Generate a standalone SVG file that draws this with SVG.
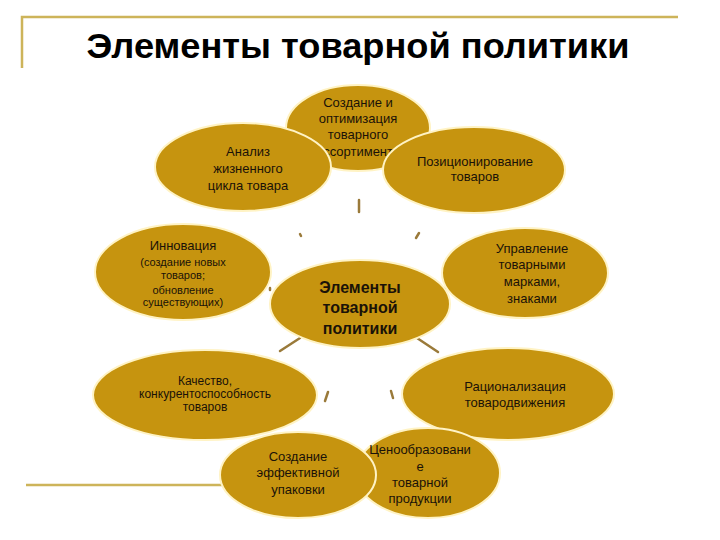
<svg xmlns="http://www.w3.org/2000/svg" width="720" height="540" viewBox="0 0 720 540">
<style>
.frame{stroke:#CDB45A;stroke-width:2.5;fill:none}
.el{fill:#C6940F;stroke:#FFF3C4;stroke-width:2}
.t{font-family:"Liberation Sans",Arial,sans-serif;font-size:13px;fill:#1a1208;text-anchor:middle}
.s{font-size:11px}
.q{font-size:12px}
.b{font-weight:bold;font-size:16px}
.title{font-family:"Liberation Sans",Arial,sans-serif;font-weight:bold;font-size:35px;fill:#000;text-anchor:middle}
.c{stroke:#9A7A3A;stroke-width:2.5;fill:none;stroke-linecap:round}
</style>
<rect width="720" height="540" fill="#fff"/>
<g id="frame">
<path class="frame" d="M22 68 V17 H678"/>
<path class="frame" d="M26 485 H497"/>
</g>
<text class="title" x="358" y="58" textLength="543" lengthAdjust="spacingAndGlyphs">Элементы товарной политики</text>
<g id="connectors">
<path class="c" d="M359 200 V212"/>
<path class="c" d="M300 234 L301 236"/>
<path class="c" d="M416 238 L419 233"/>
<path class="c" d="M270 288 L270 290"/>
<path class="c" d="M444 288 L445 290"/>
<path class="c" d="M280 351 L300 338"/>
<path class="c" d="M417 338 L438 352"/>
<path class="c" d="M325 401 L328 392"/>
<path class="c" d="M391 391 L393 398"/>
</g>
<g id="n-assortiment">
<ellipse class="el" cx="358" cy="128" rx="72" ry="43"/>
<text class="t" x="358" y="107">Создание и</text>
<text class="t" x="358" y="123">оптимизация</text>
<text class="t" x="358" y="139">товарного</text>
<text class="t" x="358" y="156">ассортимента</text>
</g>
<g id="n-analiz">
<ellipse class="el" cx="243" cy="167" rx="88" ry="44"/>
<text class="t" x="248" y="156">Анализ</text>
<text class="t" x="248" y="173">жизненного</text>
<text class="t" x="248" y="190">цикла товара</text>
</g>
<g id="n-pozicion">
<ellipse class="el" cx="474" cy="170" rx="91" ry="43"/>
<text class="t" x="475" y="166">Позиционирование</text>
<text class="t" x="475" y="181">товаров</text>
</g>
<g id="n-innovacia">
<ellipse class="el" cx="183" cy="272" rx="88" ry="48"/>
<text class="t" x="183" y="250">Инновация</text>
<text class="t s" x="183" y="266">(создание новых</text>
<text class="t s" x="183" y="279">товаров;</text>
<text class="t s" x="183" y="294">обновление</text>
<text class="t s" x="183" y="306">существующих)</text>
</g>
<g id="n-center">
<ellipse class="el" cx="360" cy="304" rx="90" ry="44"/>
<text class="t b" x="360" y="293">Элементы</text>
<text class="t b" x="360" y="313">товарной</text>
<text class="t b" x="360" y="334">политики</text>
</g>
<g id="n-marki">
<ellipse class="el" cx="525" cy="273" rx="83" ry="45"/>
<text class="t" x="532" y="253">Управление</text>
<text class="t" x="532" y="269">товарными</text>
<text class="t" x="532" y="286">марками,</text>
<text class="t" x="532" y="303">знаками</text>
</g>
<g id="n-kachestvo">
<ellipse class="el" cx="205" cy="395" rx="112" ry="45"/>
<text class="t q" x="205" y="385">Качество,</text>
<text class="t q" x="205" y="398">конкурентоспособность</text>
<text class="t q" x="205" y="411">товаров</text>
</g>
<g id="n-tovarodv">
<ellipse class="el" cx="508" cy="394" rx="106" ry="46"/>
<text class="t" x="515" y="391">Рационализация</text>
<text class="t" x="515" y="407">товародвижения</text>
</g>
<g id="n-ceny">
<ellipse class="el" cx="428" cy="473" rx="72" ry="45"/>
<text class="t" x="420" y="454">Ценообразовани</text>
<text class="t" x="420" y="471">е</text>
<text class="t" x="420" y="487">товарной</text>
<text class="t" x="420" y="503">продукции</text>
</g>
<g id="n-upakovka">
<ellipse class="el" cx="298" cy="475" rx="78" ry="43"/>
<text class="t" x="298" y="461">Создание</text>
<text class="t" x="298" y="477">эффективной</text>
<text class="t" x="298" y="494">упаковки</text>
</g>
</svg>
